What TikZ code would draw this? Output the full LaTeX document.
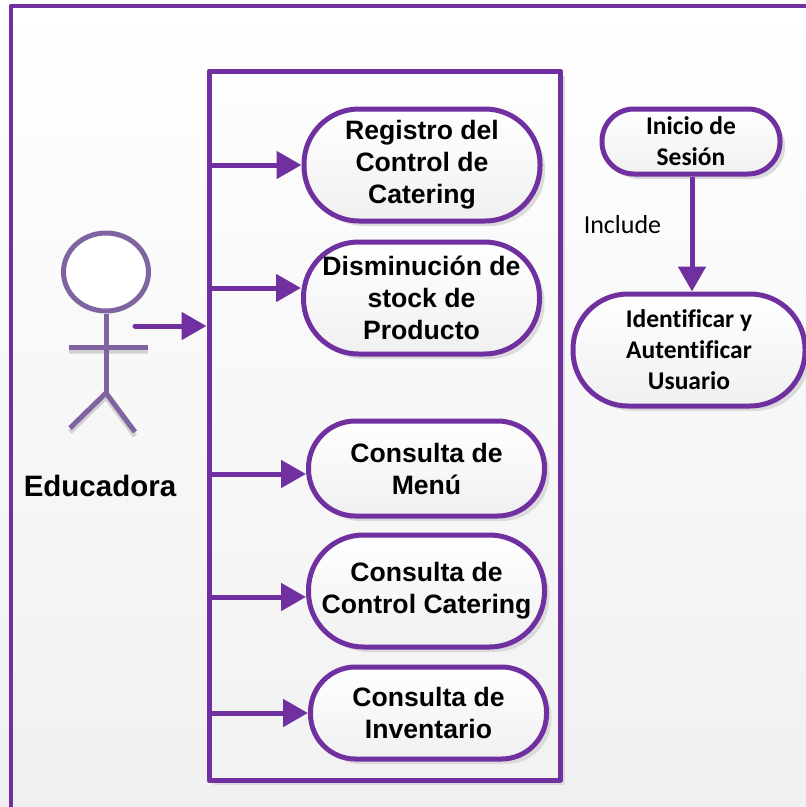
\documentclass[tikz,border=0pt]{standalone}
\usepackage{fontspec}
\setmainfont{Liberation Sans}
\newfontfamily\carlito[Ligatures=NoCommon]{Carlito}
\usetikzlibrary{arrows.meta,shadows,shapes.geometric}

\definecolor{umlpurple}{HTML}{7030A0}
\definecolor{actorpurple}{HTML}{8064A2}
\definecolor{paleend}{HTML}{F0F0F0}
\definecolor{paletop}{HTML}{FDFDFD}
\definecolor{palelow}{HTML}{F2F2F2}

\begin{document}
\begin{tikzpicture}[x=1pt,y=-1pt,>={Triangle[length=25pt,width=27pt]},
                    line join=round]

  \tikzstyle{usecase}=[rectangle,draw=umlpurple,line width=5pt,
    top color=white,bottom color=paleend,inner sep=0pt,align=center,
    font=\fontsize{26.6}{32}\selectfont\bfseries,
    drop shadow={shadow xshift=5pt,shadow yshift=-5pt,fill=black!14,opacity=1}]
  \tikzstyle{sideuse}=[usecase,font=\fontsize{25.5}{31}\selectfont\carlito\bfseries]
  \tikzstyle{link}=[->,draw=umlpurple,line width=5pt]
  \tikzstyle{actorline}=[draw=actorpurple,line width=5pt]

  \useasboundingbox (0,0) rectangle (806,807);
  \clip (0,0) rectangle (806,807);

  \shade[top color=white,bottom color=paleend] (0,0) rectangle (806,807);
  \draw[umlpurple,line width=4.5pt] (11,6) rectangle (830,830);

  \node[rectangle,draw=umlpurple,line width=5pt,top color=paletop,bottom color=palelow,
        minimum width=351pt,minimum height=709pt,
        drop shadow={shadow xshift=5pt,shadow yshift=-5pt,fill=black!14,opacity=1}]
        (system) at (384.5,425.5) {};

  \node[usecase,minimum width=236pt,minimum height=112pt,rounded corners=55pt] (registro) at (422,165)
        {Registro del \\ Control de \\ Catering};
  \node[usecase,minimum width=236pt,minimum height=112pt,rounded corners=55pt] (disminucion) at (421.5,298)
        {Disminución de \\ stock de \\ Producto};
  \node[usecase,minimum width=236pt,minimum height=95pt,rounded corners=47pt] (menu) at (426.5,468.5)
        {Consulta de \\ Menú};
  \node[usecase,minimum width=236pt,minimum height=112pt,rounded corners=55pt] (catering) at (426.5,591)
        {Consulta de \\ Control Catering};
  \node[usecase,minimum width=236pt,minimum height=92pt,rounded corners=45pt] (inventario) at (428.5,713)
        {Consulta de \\ Inventario};

  \node[sideuse,minimum width=178pt,minimum height=65pt,rounded corners=32pt] (inicio) at (691,141.5)
        {Inicio de \\ Sesión};
  \node[sideuse,minimum width=232pt,minimum height=112pt,rounded corners=55pt] (identificar) at (689,350)
        {Identificar y \\ Autentificar \\ Usuario};
  \node[font=\fontsize{26}{30}\selectfont\carlito] (include) at (622.5,225) {Include};

  \draw[actorline,black!18] (69,351) -- (148,351) (70,432) -- (106,397) -- (135,436);
  \node[ellipse,draw=actorpurple,line width=5pt,fill=white,inner sep=0pt,
        minimum width=85pt,minimum height=78pt] (head) at (106,272) {};
  \coordinate (hip) at (106,393);
  \draw[actorline] (head.south) -- (hip);
  \draw[actorline] (69,347) -- (148,347);
  \draw[actorline] (70,428) -- (hip) -- (135,432);
  \node[font=\fontsize{29.5}{34}\selectfont\bfseries] (educadora) at (100,486) {Educadora};

  \coordinate (actorhand) at (135,326);
  \draw[link,line cap=round] (actorhand) -- (actorhand -| system.west);
  \draw[link] (system.west |- registro.west) -- (registro.west);
  \draw[link] (system.west |- 0,288) -- (disminucion.west |- 0,288);
  \draw[link] (system.west |- 0,474) -- (menu.west |- 0,474);
  \draw[link] (system.west |- 0,597) -- (catering.west |- 0,597);
  \draw[link] (system.west |- inventario.west) -- (inventario.west);
  \draw[link] (inicio.south -| 692,0) -- (identificar.north -| 692,0);
\end{tikzpicture}
\end{document}
